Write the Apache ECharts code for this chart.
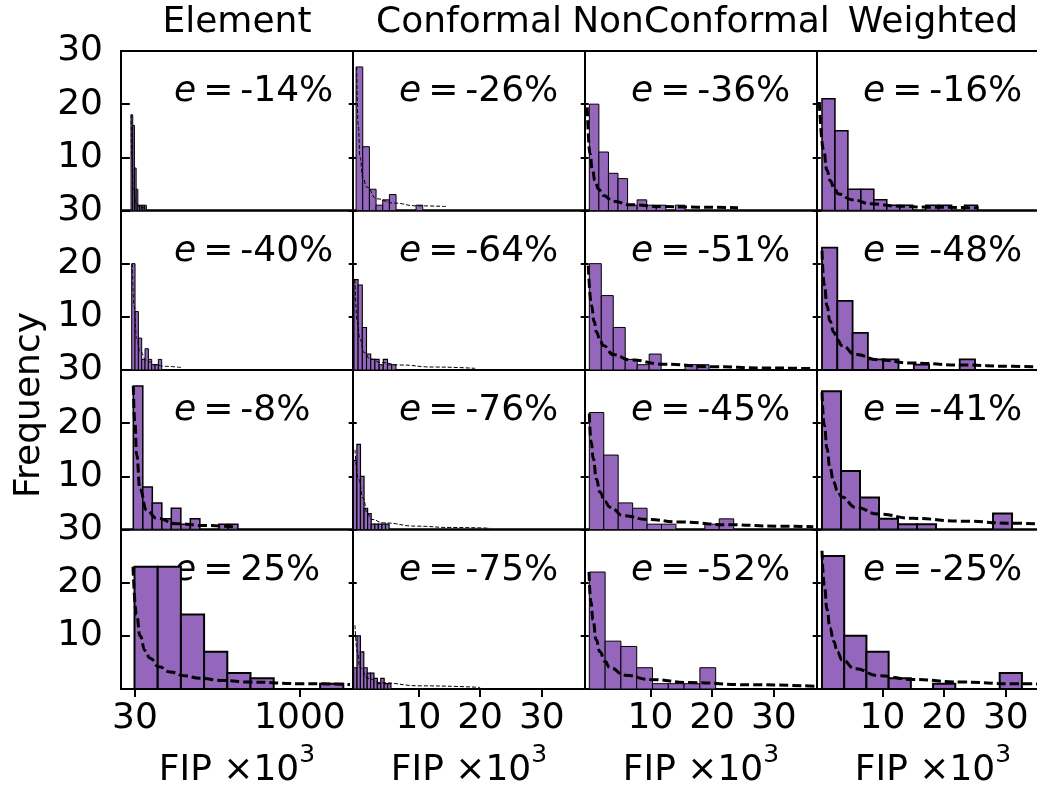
<!DOCTYPE html>
<html>
<head>
<meta charset="utf-8">
<title>FIP histograms</title>
<script src="https://cdn.jsdelivr.net/npm/echarts@6.0.0/dist/echarts.min.js"></script>
<style>
html, body { margin: 0; padding: 0; background: #fff; }
#chart { width: 1037px; height: 785px; }
</style>
</head>
<body>
<div id="chart"></div>
<script>
'use strict';

var methods = ['Element', 'Conformal', 'NonConformal', 'Weighted'];

// relative error e (%) per row, top to bottom
var elementErr = [-14, -40, -8, 25];
var conformalErr = [-26, -64, -76, -75];
var nonConformalErr = [-36, -51, -45, -52];
var weightedErr = [-16, -48, -41, -25];

// histogram bins per row: [first edge, bin width] (FIP x10^3)
var elementBins = [[7, 10], [10.9, 19.6], [20.3, 55.9], [27.4, 136.4]];
var conformalBins = [[-0.1, 1.08], [-0.45, 0.68], [-0.55, 0.58], [-0.5, 0.55]];
var nonConformalBins = [[0.1, 1.55], [0.1, 1.94], [0.1, 2.34], [0.1, 2.56]];
var weightedBins = [[0.21, 2.1], [0.21, 2.48], [0.21, 3.08], [0.21, 3.6]];

// bar heights (frequency) per row
var elementCounts = [
	[18, 16, 8, 4, 1, 1, 1, 1, 1],
	[20, 11, 6, 2, 4, 2, 1, 1, 2],
	[27, 8, 5, 2, 4, 1, 2, 0, 0, 1, 1],
	[23, 23, 14, 7, 3, 2, 0, 0, 1]
];
var conformalCounts = [
	[27, 12, 4, 1, 2, 3, 0, 0, 0, 1],
	[17, 16, 8, 3, 2, 2, 1, 2, 1, 1],
	[13, 16, 10, 4, 3, 1, 1, 1, 1, 1],
	[4, 10, 7, 4, 3, 3, 2, 1, 2, 1, 1]
];
var nonConformalCounts = [
	[20, 11, 7, 6, 1, 2, 1, 1, 0, 1],
	[20, 14, 8, 2, 1, 3, 0, 0, 1, 1],
	[22, 14, 5, 4, 1, 1, 0, 0, 1, 2],
	[22, 9, 8, 4, 1, 1, 1, 4]
];
var weightedCounts = [
	[21, 15, 4, 4, 2, 1, 1, 0, 1, 1, 0, 1],
	[23, 13, 7, 2, 2, 0, 1, 0, 0, 2],
	[26, 11, 6, 2, 1, 1, 0, 0, 0, 3],
	[25, 10, 7, 2, 0, 1, 0, 0, 3]
];

// fitted density (dashed): [FIP, frequency]
var elementFit = [
	[[7, 18], [12, 10], [20, 4], [35, 1.5], [60, 0.6], [100, 0.3]],
	[[15, 20], [25, 12], [40, 6], [60, 3.5], [100, 1.7], [150, 1], [200, 0.7], [305, 0.45]],
	[[20.3, 27], [30, 20], [40.3, 14], [59.7, 7.5], [99, 3.6], [158, 2.1], [275, 1.1], [432, 0.75], [628, 0.44]],
	[[18.5, 23], [40, 14], [59.7, 10], [90, 7.2], [118.5, 5.8], [170, 4.2], [236, 3.2], [320, 2.5], [412, 2.0], [550, 1.6], [706, 1.3], [1000, 1], [1294, 0.85]]
];
var conformalFit = [
	[[0, 27], [0.25, 16], [0.53, 10], [1.0, 6.2], [1.62, 4.4], [3.24, 2.2], [5.93, 1.4], [9.72, 0.88], [14.6, 0.75]],
	[[-0.28, 17], [0.1, 9], [0.53, 5.8], [1.2, 3.3], [2.16, 2.1], [4, 1.4], [7, 0.94], [12.4, 0.56], [19.2, 0.31]],
	[[-0.28, 15], [0.3, 9.5], [1.07, 5.8], [1.7, 3], [2.43, 1.9], [4.31, 1.25], [9.72, 0.63], [15.1, 0.38], [21.6, 0.25]],
	[[-0.28, 12], [0.1, 7], [0.53, 4], [1.83, 2], [3.78, 1.2], [10.26, 0.6], [20, 0.3]]
];
var nonConformalFit = [
	[[-0.23, 19.4], [0.21, 10.7], [0.6, 7.6], [1.02, 5.6], [1.6, 4], [2.37, 2.8], [3.99, 1.76], [6.69, 1.07], [12.1, 0.75], [17.5, 0.63], [24.2, 0.5]],
	[[-0.07, 19.6], [0.49, 12.1], [0.85, 9.2], [1.29, 7.1], [1.8, 5.7], [2.37, 4.6], [3.99, 2.9], [6.69, 1.9], [12.1, 1.1], [20.2, 0.63], [28.3, 0.38], [36.4, 0.25]],
	[[0.1, 21.8], [0.4, 16.5], [0.75, 13.3], [1.25, 9.5], [1.83, 7], [2.6, 5.3], [3.45, 4.2], [5.6, 2.6], [9.4, 1.9], [14.8, 1.4], [22.9, 0.88], [31, 0.63], [36.4, 0.5]],
	[[0.05, 22], [0.35, 16.5], [0.7, 13], [1.2, 9.3], [1.83, 7], [2.6, 5.2], [3.45, 4], [5.88, 2.6], [9.94, 1.8], [16.4, 1.2], [26.1, 0.8], [37, 0.5]]
];
var weightedFit = [
	[[-0.23, 20.4], [0.49, 11.3], [1.0, 7.6], [1.56, 5.6], [2.2, 4.1], [2.92, 3.1], [5.07, 2], [8.3, 1.25], [12.6, 0.82], [17.5, 0.63], [25.6, 0.5]],
	[[0.21, 22.4], [0.6, 16], [1.02, 12.1], [1.5, 9.2], [2.11, 7.1], [2.7, 5.7], [3.45, 4.6], [5.61, 2.9], [9.4, 1.9], [14.8, 1.3], [22.9, 0.94], [31, 0.69], [35.1, 0.56]],
	[[0.21, 25.8], [0.6, 19.5], [1.02, 15.2], [1.5, 11.6], [2.11, 8.9], [2.7, 7.3], [3.45, 6.1], [5.61, 4.2], [9.4, 2.9], [14.8, 2.1], [22.9, 1.57], [31, 1.19], [35.1, 1.07]],
	[[0.21, 26], [0.6, 19.5], [1.02, 15], [1.5, 11.5], [2.11, 9], [2.7, 7], [3.45, 5.5], [5.61, 3.8], [9.4, 2.5], [14.8, 1.8], [22.9, 1.3], [31, 1.0], [37, 0.9]]
];

// axis ranges and tick labels per column
var xRanges = [[-52, 1312], [-0.6, 37], [-0.6, 37], [-0.6, 37]];
var xTickValues = [[30, 1000], [10, 20, 30], [10, 20, 30], [10, 20, 30]];
var yTickInterval = 10;
var yMax = 30;

var columns = [
	{ err: elementErr, bins: elementBins, counts: elementCounts, fit: elementFit },
	{ err: conformalErr, bins: conformalBins, counts: conformalCounts, fit: conformalFit },
	{ err: nonConformalErr, bins: nonConformalBins, counts: nonConformalCounts, fit: nonConformalFit },
	{ err: weightedErr, bins: weightedBins, counts: weightedCounts, fit: weightedFit }
];

// styling per column/row
var barEdge = [[1, 1, 1.5, 2], [1, 1.1, 1.2, 1.2], [1, 1, 1, 1], [1.5, 1.8, 2, 2]];
var fitWidth = [[0.9, 0.9, 3, 3], [1, 1, 1, 1], [3, 3, 3, 3], [3, 3, 3, 3]];

var FONT = 'DejaVu Sans';
var FS = 36;
var LEFT = 121, TOP = 51, W = 232, H = 159.5;
var annotX = [53, 46, 46, 46];

function makeBar(lw) {
	return function (params, api) {
		var h = api.value(2);
		if (!h) return null;
		var p0 = api.coord([api.value(0), h]);
		var p1 = api.coord([api.value(1), 0]);
		return {
			type: 'rect',
			shape: { x: p0[0], y: p0[1], width: p1[0] - p0[0], height: p1[1] - p0[1] },
			style: { fill: '#9467bd', stroke: '#000', lineWidth: lw }
		};
	};
}

var grids = [], xAxes = [], yAxes = [], series = [], graphics = [];

for (var r = 0; r < 4; r++) {
	for (var c = 0; c < 4; c++) {
		var idx = r * 4 + c;
		var col = columns[c];
		var bottomRow = r === 3;

		grids.push({
			left: LEFT + c * W, top: TOP + r * H, width: W, height: H,
			show: true, borderColor: '#000', borderWidth: 2,
			backgroundColor: 'transparent', containLabel: false, outerBoundsMode: 'none'
		});

		xAxes.push({
			gridIndex: idx, type: 'value', min: xRanges[c][0], max: xRanges[c][1],
			axisLine: { show: false }, splitLine: { show: false },
			axisTick: { show: bottomRow, customValues: xTickValues[c], length: 8, lineStyle: { color: '#000', width: 2 } },
			axisLabel: {
				show: bottomRow, customValues: xTickValues[c], margin: 12,
				fontFamily: FONT, fontSize: FS, color: '#000',
				formatter: function (v) { return String(v); }
			}
		});

		yAxes.push({
			gridIndex: idx, type: 'value', min: 0, max: yMax, interval: yTickInterval,
			axisLine: { show: false }, splitLine: { show: false },
			axisTick: { show: true, length: 8, lineStyle: { color: '#000', width: 2 } },
			axisLabel: {
				show: c === 0, margin: 18, fontFamily: FONT, fontSize: FS, color: '#000',
				formatter: function (v) { return v === 0 ? '' : String(v); }
			}
		});

		var start = col.bins[r][0], bw = col.bins[r][1];
		var barData = col.counts[r].map(function (n, k) {
			return [start + k * bw, start + (k + 1) * bw, n];
		});

		series.push({
			type: 'custom', xAxisIndex: idx, yAxisIndex: idx,
			renderItem: makeBar(barEdge[c][r]),
			encode: { x: [0, 1], y: 2 },
			data: barData, clip: true, z: 2, silent: true
		});

		var lw = fitWidth[c][r];
		series.push({
			type: 'line', xAxisIndex: idx, yAxisIndex: idx,
			data: col.fit[r], symbol: 'none', smooth: 0.5, smoothMonotone: 'x',
			lineStyle: { color: '#000', width: lw, type: lw > 2 ? [9, 4] : [4, 2] },
			clip: true, z: 3, silent: true
		});

		graphics.push({
			type: 'text',
			x: LEFT + c * W + annotX[c],
			y: TOP + r * H + 41,
			style: {
				text: '{i|e}{q|=}{n|' + col.err[r] + '%}',
				verticalAlign: 'middle', align: 'left',
				rich: {
					i: { fontFamily: FONT, fontSize: FS, fontStyle: 'italic', fill: '#000' },
					q: { fontFamily: FONT, fontSize: FS, fill: '#000', padding: [0, 7, 0, 7] },
					n: { fontFamily: FONT, fontSize: FS, fill: '#000' }
				}
			}
		});
	}
}

for (var c2 = 0; c2 < 4; c2++) {
	var cx = LEFT + c2 * W + W / 2;
	graphics.push({
		type: 'text', x: cx, y: 23,
		style: { text: methods[c2], font: FS + 'px "' + FONT + '"', fill: '#000', align: 'center', verticalAlign: 'middle' }
	});
	graphics.push({
		type: 'text', x: cx, y: 766,
		style: {
			text: '{a|FIP ×10}{s|3}', align: 'center', verticalAlign: 'middle',
			rich: {
				a: { fontFamily: FONT, fontSize: FS, fill: '#000', lineHeight: 46, verticalAlign: 'bottom' },
				s: { fontFamily: FONT, fontSize: 25, fill: '#000', lineHeight: 46, verticalAlign: 'top' }
			}
		}
	});
}

graphics.push({
	type: 'text', x: 30, y: 405, rotation: Math.PI / 2,
	style: { text: 'Frequency', font: FS + 'px "' + FONT + '"', fill: '#000', align: 'center', verticalAlign: 'middle' }
});

var chart = echarts.init(document.getElementById('chart'), null, { renderer: 'canvas' });
chart.setOption({
	backgroundColor: '#fff',
	animation: false,
	grid: grids,
	xAxis: xAxes,
	yAxis: yAxes,
	series: series,
	graphic: graphics
});
</script>
</body>
</html>
